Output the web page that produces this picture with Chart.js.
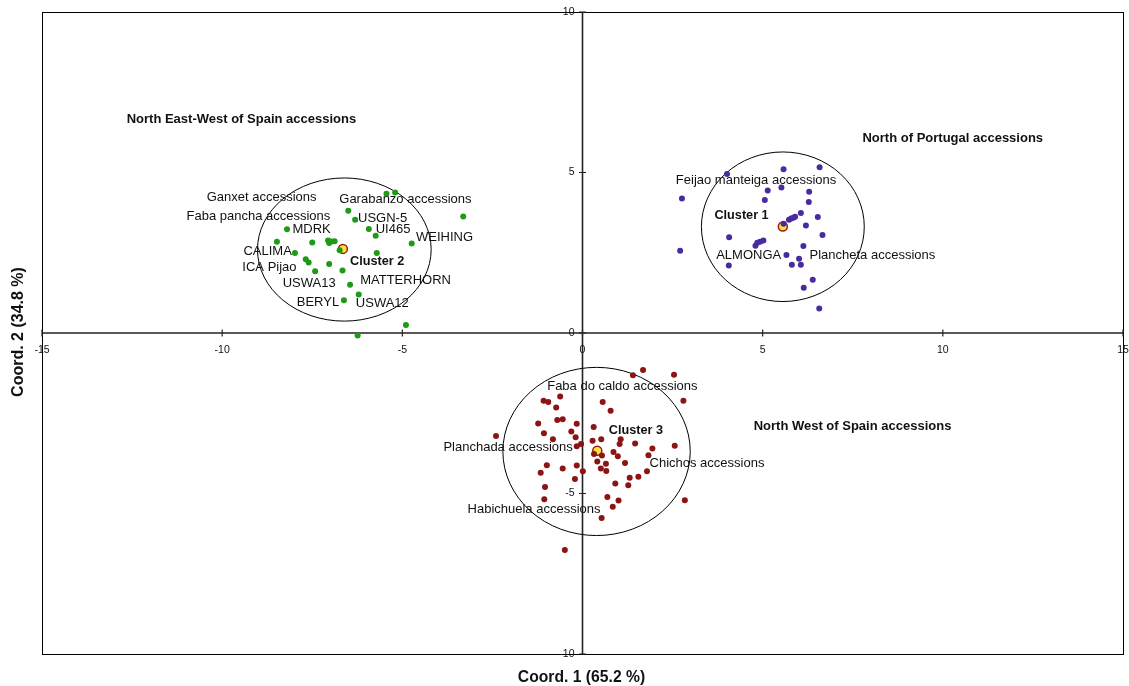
<!doctype html>
<html lang="en">
<head>
  <meta charset="UTF-8">
  <title>PCoA clusters</title>
  <script src="https://cdn.jsdelivr.net/npm/chart.js"></script>
  <style>
    html, body { margin: 0; padding: 0; background: #fff; overflow: hidden; }
    canvas { display: block; }
  </style>
</head>
<body>
<canvas id="pcoa" width="1129" height="686"></canvas>
<script>
  // axis ticks
  const xTicks = [-15, -10, -5, 0, 5, 10, 15];
  const yTicks = [-10, -5, 0, 5, 10];

  // Cluster 1 (North of Portugal) - purple
  const cluster1 = [
    [6.58, 5.16], [5.58, 5.10], [4.01, 4.95], [2.76, 4.19], [5.14, 4.44], [5.52, 4.53],
    [6.29, 4.40], [5.06, 4.14], [6.28, 4.08], [6.06, 3.74], [5.73, 3.53], [5.79, 3.57],
    [5.85, 3.59], [5.90, 3.62], [6.53, 3.61], [6.20, 3.35], [6.66, 3.05], [4.07, 2.98],
    [5.02, 2.88], [4.93, 2.84], [4.85, 2.81], [4.80, 2.72], [6.13, 2.71], [5.66, 2.43],
    [6.01, 2.31], [5.81, 2.13], [6.06, 2.13], [4.06, 2.10], [6.39, 1.66], [6.14, 1.41],
    [6.57, 0.76], [2.71, 2.56], [5.58, 3.40]
  ];

  // Cluster 2 (North East-West of Spain) - green
  const cluster2 = [
    [-5.44, 4.34], [-5.20, 4.38], [-3.31, 3.63], [-6.50, 3.81], [-6.31, 3.53], [-5.93, 3.24],
    [-5.74, 3.03], [-4.74, 2.79], [-8.20, 3.23], [-8.48, 2.84], [-7.50, 2.82], [-7.06, 2.88],
    [-6.97, 2.85], [-6.88, 2.86], [-7.03, 2.80], [-6.74, 2.58], [-5.71, 2.49], [-7.98, 2.49],
    [-7.68, 2.30], [-7.60, 2.20], [-7.03, 2.15], [-7.42, 1.92], [-6.66, 1.95], [-6.45, 1.50],
    [-6.21, 1.20], [-6.62, 1.02], [-4.90, 0.25], [-6.24, -0.08]
  ];

  // Cluster 3 (North West of Spain) - dark red
  const cluster3 = [
    [1.68, -1.15], [1.40, -1.32], [2.54, -1.30], [2.80, -2.11], [-1.08, -2.11], [-0.95, -2.15],
    [-0.62, -1.98], [-0.73, -2.32], [0.56, -2.15], [0.78, -2.42], [-0.70, -2.71], [-0.55, -2.69],
    [-1.23, -2.82], [-0.16, -2.83], [0.31, -2.93], [-2.40, -3.21], [-1.07, -3.12], [-0.31, -3.07],
    [-0.19, -3.25], [-0.82, -3.31], [0.52, -3.31], [1.06, -3.31], [0.28, -3.36], [-0.04, -3.46],
    [-0.16, -3.53], [1.03, -3.46], [1.46, -3.44], [2.56, -3.51], [1.94, -3.60], [0.32, -3.77],
    [0.54, -3.82], [0.86, -3.71], [0.98, -3.84], [1.83, -3.81], [0.41, -4.00], [0.65, -4.07],
    [1.18, -4.05], [-0.99, -4.12], [-0.16, -4.13], [-0.55, -4.22], [-1.16, -4.35], [0.01, -4.31],
    [0.51, -4.22], [0.66, -4.30], [1.79, -4.31], [1.55, -4.48], [1.31, -4.51], [-0.21, -4.55],
    [-1.04, -4.80], [0.91, -4.69], [1.27, -4.74], [-1.06, -5.18], [0.69, -5.11], [1.00, -5.22],
    [0.84, -5.41], [2.84, -5.21], [0.53, -5.76], [-0.49, -6.76]
  ];

  // cluster centroids
  const centroids = [[5.56, 3.32], [-6.65, 2.62], [0.41, -3.67]];

  // cluster ellipses: centre x, centre y, radius x, radius y
  const ellipses = [
    [5.56, 3.31, 2.26, 2.33],
    [-6.61, 2.60, 2.41, 2.23],
    [0.39, -3.69, 2.60, 2.62]
  ];

  // text labels: text, x, y, weight/size
  const labels = [
    ['North East-West of Spain accessions', -12.65, 6.64, 'region'],
    ['North of Portugal accessions', 7.77, 6.05, 'region'],
    ['North West of Spain accessions', 4.75, -2.92, 'region'],
    ['Ganxet accessions', -10.43, 4.22, 'plain'],
    ['Garabanzo accessions', -6.75, 4.15, 'plain'],
    ['Faba pancha accessions', -10.99, 3.62, 'plain'],
    ['USGN-5', -6.23, 3.56, 'plain'],
    ['MDRK', -8.05, 3.22, 'plain'],
    ['UI465', -5.74, 3.22, 'plain'],
    ['WEIHING', -4.62, 2.97, 'plain'],
    ['CALIMA', -9.41, 2.53, 'plain'],
    ['Cluster 2', -6.45, 2.22, 'cluster'],
    ['ICA Pijao', -9.44, 2.04, 'plain'],
    ['USWA13', -8.32, 1.53, 'plain'],
    ['MATTERHORN', -6.17, 1.63, 'plain'],
    ['BERYL', -7.93, 0.94, 'plain'],
    ['USWA12', -6.29, 0.91, 'plain'],
    ['Feijao manteiga accessions', 2.59, 4.74, 'plain'],
    ['Cluster 1', 3.66, 3.65, 'cluster'],
    ['ALMONGA', 3.71, 2.42, 'plain'],
    ['Plancheta accessions', 6.30, 2.42, 'plain'],
    ['Faba do caldo accessions', -0.98, -1.67, 'plain'],
    ['Cluster 3', 0.73, -3.04, 'cluster'],
    ['Planchada accessions', -3.86, -3.57, 'plain'],
    ['Chichos accessions', 1.86, -4.06, 'plain'],
    ['Habichuela accessions', -3.19, -5.51, 'plain']
  ];

  const FONT = '"Liberation Sans", Arial, Helvetica, sans-serif';
  const labelFonts = {region: 'bold 13px ', cluster: 'bold 12.7px ', plain: '13px '};
  const toPoints = arr => arr.map(p => ({x: p[0], y: p[1]}));

  // frame, crossing axes, tick marks, ellipses
  const backdrop = {
    id: 'backdrop',
    beforeDatasetsDraw(chart) {
      const {ctx, chartArea: a, scales: {x, y}} = chart;
      const x0 = x.getPixelForValue(0), y0 = y.getPixelForValue(0);
      ctx.save();
      ctx.strokeStyle = '#000';
      ctx.lineWidth = 1;
      ctx.strokeRect(a.left + 0.5, a.top + 0.5, a.width, a.height);

      ctx.strokeStyle = '#222';
      ctx.lineWidth = 1.6;
      ctx.beginPath();
      ctx.moveTo(a.left, y0); ctx.lineTo(a.right, y0);
      ctx.moveTo(x0, a.top); ctx.lineTo(x0, a.bottom);
      ctx.stroke();

      ctx.lineWidth = 1.2;
      ctx.beginPath();
      xTicks.forEach(v => {
        const px = x.getPixelForValue(v);
        ctx.moveTo(px, y0 - 3.5); ctx.lineTo(px, y0 + 3.5);
      });
      yTicks.forEach(v => {
        const py = y.getPixelForValue(v);
        ctx.moveTo(x0 - 3.5, py); ctx.lineTo(x0 + 3.5, py);
      });
      ctx.stroke();

      ctx.fillStyle = '#111';
      ctx.font = '10.5px ' + FONT;
      ctx.textAlign = 'center';
      ctx.textBaseline = 'middle';
      xTicks.forEach(v => ctx.fillText(String(v), x.getPixelForValue(v), y0 + 17));
      ctx.textAlign = 'right';
      yTicks.forEach(v => ctx.fillText(String(v), x0 - 8, y.getPixelForValue(v)));

      ctx.strokeStyle = '#000';
      ctx.lineWidth = 1;
      ellipses.forEach(([cx, cy, rx, ry]) => {
        const px = x.getPixelForValue(cx), py = y.getPixelForValue(cy);
        const prx = Math.abs(x.getPixelForValue(cx + rx) - px);
        const pry = Math.abs(y.getPixelForValue(cy + ry) - py);
        ctx.beginPath();
        ctx.ellipse(px, py, prx, pry, 0, 0, Math.PI * 2);
        ctx.stroke();
      });
      ctx.restore();
    },
    afterDatasetsDraw(chart) {
      const {ctx, scales: {x, y}} = chart;
      ctx.save();
      ctx.fillStyle = '#111';
      ctx.textAlign = 'left';
      ctx.textBaseline = 'middle';
      labels.forEach(([t, lx, ly, kind]) => {
        ctx.font = labelFonts[kind] + FONT;
        ctx.fillText(t, x.getPixelForValue(lx), y.getPixelForValue(ly));
      });
      // axis titles
      ctx.textAlign = 'center';
      ctx.font = 'bold 15.7px ' + FONT;
      ctx.fillText('Coord. 1 (65.2 %)', x.getPixelForValue(0) - 1, 678);
      ctx.font = 'bold 16px ' + FONT;
      ctx.translate(19, 332);
      ctx.rotate(-Math.PI / 2);
      ctx.fillText('Coord. 2 (34.8 %)', 0, 0);
      ctx.restore();
    }
  };

  new Chart(document.getElementById('pcoa'), {
    type: 'scatter',
    data: {
      datasets: [
        {label: 'Cluster 1', data: toPoints(cluster1), backgroundColor: '#4a2aa0', pointRadius: 3, borderWidth: 0},
        {label: 'Cluster 2', data: toPoints(cluster2), backgroundColor: '#1f9a14', pointRadius: 3, borderWidth: 0},
        {label: 'Cluster 3', data: toPoints(cluster3), backgroundColor: '#8c1414', pointRadius: 3, borderWidth: 0},
        {label: 'Centroids', data: toPoints(centroids), backgroundColor: '#ffe23a', borderColor: '#9a1c10',
          pointRadius: 4.5, borderWidth: 1.5}
      ]
    },
    options: {
      responsive: false,
      animation: false,
      layout: {padding: {left: 42, right: 4, top: 12, bottom: 32}},
      scales: {
        x: {type: 'linear', min: -15, max: 15, display: false},
        y: {type: 'linear', min: -10, max: 10, display: false}
      },
      plugins: {
        legend: {display: false},
        tooltip: {enabled: false}
      }
    },
    plugins: [backdrop]
  });
</script>
</body>
</html>
